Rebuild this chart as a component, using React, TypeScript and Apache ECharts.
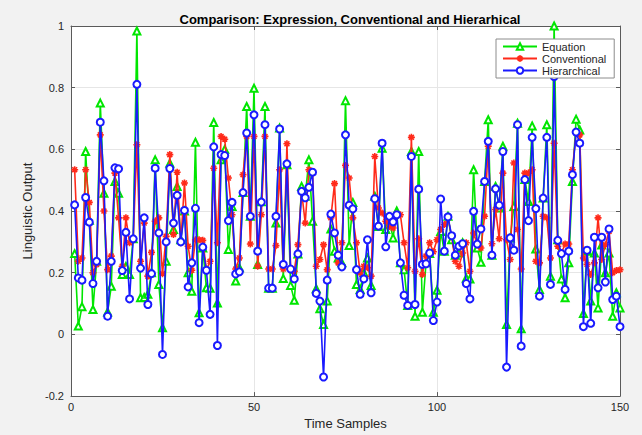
import React, { useEffect, useRef } from "react";
import * as echarts from "echarts";

const equation = [0.262,0.027,0.09,0.593,0.37,0.081,0.237,0.75,0.458,0.073,
0.156,0.496,0.458,0.194,0.22,0.194,0.31,0.984,0.119,0.12,
0.13,0.2,0.566,0.162,0.022,0.237,0.555,0.34,0.48,0.307,
0.4,0.2,0.14,0.623,0.07,0.28,0.151,0.15,0.687,0.102,
0.566,0.6,0.275,0.415,0.173,0.216,0.46,0.739,0.383,0.798,
0.227,0.43,0.739,0.15,0.15,0.361,0.669,0.181,0.55,0.159,
0.111,0.261,0.48,0.448,0.566,0.367,0.148,0.083,0.032,0.108,
0.342,0.27,0.248,0.232,0.758,0.288,0.428,0.162,0.146,0.2,
0.248,0.159,0.448,0.35,0.604,0.34,0.367,0.313,0.4,0.232,
0.21,0.094,0.593,0.059,0.593,0.072,0.232,0.262,0.072,0.143,
0.334,0.27,0.383,0.307,0.257,0.264,0.297,0.182,0.18,0.534,
0.28,0.234,0.496,0.696,0.257,0.48,0.41,0.61,0.032,0.313,
0.415,0.685,0.018,0.502,0.431,0.676,0.277,0.146,0.442,0.68,
0.189,1.0,0.307,0.18,0.119,0.232,0.496,0.698,0.663,0.068,
0.27,0.108,0.264,0.086,0.29,0.2,0.264,0.059,0.135,0.086];

const conventional = [0.534,0.237,0.248,0.534,0.428,0.2,0.227,0.647,0.4,0.21,
0.254,0.523,0.378,0.221,0.378,0.297,0.307,0.615,0.237,0.361,
0.189,0.266,0.367,0.378,0.197,0.318,0.583,0.324,0.526,0.297,
0.491,0.286,0.208,0.307,0.307,0.305,0.21,0.237,0.539,0.297,
0.642,0.633,0.507,0.388,0.212,0.248,0.518,0.642,0.293,0.642,
0.221,0.388,0.642,0.212,0.212,0.288,0.534,0.212,0.618,0.212,
0.205,0.291,0.464,0.361,0.534,0.523,0.221,0.243,0.291,0.21,
0.378,0.489,0.232,0.297,0.548,0.507,0.378,0.297,0.2,0.221,
0.216,0.189,0.577,0.41,0.394,0.367,0.35,0.345,0.39,0.388,
0.297,0.216,0.639,0.205,0.31,0.194,0.254,0.297,0.268,0.307,
0.34,0.356,0.378,0.318,0.237,0.221,0.264,0.297,0.205,0.329,
0.291,0.28,0.383,0.61,0.294,0.405,0.31,0.523,0.307,0.243,
0.556,0.34,0.212,0.523,0.523,0.534,0.237,0.232,0.383,0.378,
0.248,0.62,0.286,0.264,0.293,0.293,0.534,0.653,0.647,0.248,
0.227,0.194,0.232,0.378,0.243,0.291,0.334,0.2,0.207,0.21];

const hierarchical = [0.42,0.183,0.176,0.444,0.364,0.165,0.237,0.688,0.498,0.059,
0.237,0.54,0.537,0.207,0.331,0.115,0.31,0.811,0.215,0.378,
0.097,0.197,0.539,0.329,-0.065,0.3,0.538,0.361,0.451,0.3,
0.402,0.154,0.232,0.409,0.038,0.283,0.208,0.065,0.608,-0.036,
0.583,0.58,0.369,0.428,0.196,0.203,0.46,0.653,0.383,0.712,
0.27,0.429,0.68,0.15,0.15,0.383,0.666,0.227,0.553,0.212,
0.18,0.261,0.464,0.443,0.477,0.526,0.133,0.108,-0.138,0.176,
0.39,0.329,0.257,0.219,0.647,0.419,0.407,0.21,0.13,0.18,
0.307,0.135,0.44,0.351,0.62,0.284,0.383,0.365,0.388,0.232,
0.127,0.094,0.577,0.097,0.471,0.227,0.229,0.264,0.045,0.105,
0.439,0.27,0.381,0.32,0.257,0.286,0.294,0.165,0.115,0.399,
0.293,0.342,0.496,0.626,0.257,0.472,0.419,0.593,-0.106,0.313,
0.273,0.68,-0.038,0.502,0.369,0.639,0.408,0.124,0.442,0.639,
0.162,0.836,0.305,0.262,0.146,0.27,0.518,0.656,0.62,0.025,
0.273,0.036,0.315,0.151,0.315,0.17,0.342,0.113,0.124,0.025];

const seriesNames = ["Equation", "Conventional", "Hierarchical"];
const titleText = "Comparison: Expression, Conventional and Hierarhical";
const xLabel = "Time Samples";
const yLabel = "Linguistic Output";

const FONT = "Liberation Sans, Arial, Helvetica, sans-serif";
const TXT = "#262626";
const ASTERISK = "path://M5,0L5,10M0,5L10,5M1.5,1.5L8.5,8.5M1.5,8.5L8.5,1.5";

const toPairs = (arr: number[]) => arr.map((v, i) => [i + 1, v]);

export default function App() {
  const ref = useRef<HTMLDivElement>(null);
  useEffect(() => {
    document.body.style.margin = "0";
    const chart = echarts.init(ref.current!, null, { renderer: "svg" });
    const axisCommon = {
      axisLine: { show: true, onZero: false, lineStyle: { color: "#5a5a5a", width: 1 } },
      axisTick: { show: true, inside: true, length: 4, lineStyle: { color: "#5a5a5a" } },
    };
    chart.setOption({
      animation: false,
      backgroundColor: "#f2f2f2",
      title: {
        text: titleText,
        left: 345,
        top: 8,
        textAlign: "center",
        textStyle: { fontFamily: FONT, fontSize: 13, fontWeight: "bold", color: "#000" },
      },
      legend: {
        orient: "vertical",
        left: 496,
        top: 39,
        z: 20,
        zlevel: 0,
        padding: [2, 8, 2, 6],
        itemGap: 1,
        itemWidth: 34,
        itemHeight: 8,
        backgroundColor: "#fff",
        borderColor: "#8c8c8c",
        borderWidth: 1,
        textStyle: { fontFamily: FONT, fontSize: 11, color: TXT },
        data: seriesNames,
      },
      grid: { left: 71, right: 22, top: 26, bottom: 38, show: true, backgroundColor: "#fff", borderWidth: 0 },
      xAxis: [
        {
          type: "value", min: 0, max: 150, interval: 50, position: "bottom",
          ...axisCommon,
          axisLabel: { fontFamily: FONT, fontSize: 11, color: TXT, margin: 5 },
          splitLine: { show: true, lineStyle: { color: "#e6e6e6" } },
          name: xLabel, nameLocation: "middle", nameGap: 19,
          nameTextStyle: { fontFamily: FONT, fontSize: 13, color: TXT },
        },
        {
          type: "value", min: 0, max: 150, interval: 50, position: "top",
          ...axisCommon, axisLabel: { show: false }, splitLine: { show: false },
        },
      ],
      yAxis: [
        {
          type: "value", min: -0.2, max: 1, interval: 0.2, position: "left",
          ...axisCommon,
          axisLabel: {
            fontFamily: FONT, fontSize: 11, color: TXT, margin: 7,
            formatter: (v: number) => String(Math.round(v * 10) / 10),
          },
          splitLine: { show: true, lineStyle: { color: "#e6e6e6" } },
          name: yLabel, nameLocation: "middle", nameGap: 30,
          nameTextStyle: { fontFamily: FONT, fontSize: 13, color: TXT },
        },
        {
          type: "value", min: -0.2, max: 1, interval: 0.2, position: "right",
          ...axisCommon, axisLabel: { show: false }, splitLine: { show: false },
        },
      ],
      series: [
        {
          name: seriesNames[0], type: "line", data: toPairs(equation),
          symbol: "emptyTriangle", symbolSize: 7, showAllSymbol: true,
          lineStyle: { color: "#00e600", width: 1.6 },
          itemStyle: { color: "#00e600", borderColor: "#00e600", borderWidth: 1.4 },
          z: 2,
        },
        {
          name: seriesNames[1], type: "line", data: toPairs(conventional),
          symbol: ASTERISK, symbolSize: 7, showAllSymbol: true,
          lineStyle: { color: "#ff2a1a", width: 1.6 },
          itemStyle: { color: "#ff2a1a", borderColor: "#ff2a1a", borderWidth: 1.6 },
          z: 3,
        },
        {
          name: seriesNames[2], type: "line", data: toPairs(hierarchical),
          symbol: "emptyCircle", symbolSize: 7, showAllSymbol: true,
          lineStyle: { color: "#1a1aff", width: 1.6 },
          itemStyle: { color: "#1a1aff", borderColor: "#1a1aff", borderWidth: 1.4 },
          z: 4,
        },
      ],
    });
    return () => chart.dispose();
  }, []);
  return <div ref={ref} style={{ width: 642, height: 435 }} />;
}
